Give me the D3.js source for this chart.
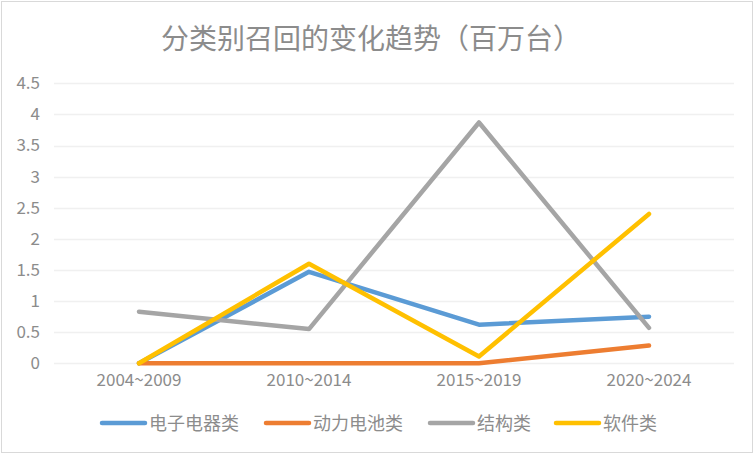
<!DOCTYPE html>
<html><head><meta charset="utf-8">
<script src="https://cdn.jsdelivr.net/npm/d3@7"></script>
<style>
html,body{margin:0;padding:0;background:#fff;}
text{font-family:"Noto Sans CJK SC","Liberation Sans",sans-serif;}
</style></head>
<body>
<svg id="c" width="754" height="454"></svg>
<script>
const categories = ["2004~2009","2010~2014","2015~2019","2020~2024"];
const seriesNames = ["电子电器类","动力电池类","结构类","软件类"];
const seriesColors = ["#5B9BD5","#ED7D31","#A5A5A5","#FFC000"];
const electronics = [0, 1.47, 0.62, 0.75];
const battery = [0, 0, 0, 0.285];
const structure = [0.83, 0.55, 3.87, 0.57];
const software = [0, 1.6, 0.11, 2.4];
const yTicks = [0,0.5,1,1.5,2,2.5,3,3.5,4,4.5];
const title = "分类别召回的变化趋势（百万台）";

const allSeries = [electronics, battery, structure, software];
const svg = d3.select("#c");
const textColor = "#8c8c8c";

svg.append("rect").attr("x",1.5).attr("y",1.5).attr("width",751).attr("height",451)
  .attr("fill","#fff").attr("stroke","#d9d9d9").attr("stroke-width",1);

svg.append("text").attr("x",371).attr("y",49).attr("text-anchor","middle")
  .attr("font-size",28).attr("fill",textColor).text(title);

const x = d3.scaleBand().domain(categories).range([54,734]);
const y = d3.scaleLinear().domain([0,4.5]).range([363.3,83.3]);

const grid = svg.append("g");
grid.selectAll("line").data(yTicks).join("line")
  .attr("x1",54).attr("x2",734)
  .attr("y1",d=>Math.round(y(d))+0.5).attr("y2",d=>Math.round(y(d))+0.5)
  .attr("stroke","#f0f0f0").attr("stroke-width",1.3);

const yAxis = svg.append("g").attr("transform","translate(44,0)")
  .call(d3.axisLeft(y).tickValues(yTicks).tickSize(0).tickPadding(4).tickFormat(d=>String(d)));
yAxis.select(".domain").remove();
yAxis.selectAll("text").attr("font-size",17).attr("fill",textColor)
  .attr("font-family","'Liberation Sans',sans-serif");

const xAxis = svg.append("g").attr("transform","translate(0,370)")
  .call(d3.axisBottom(x).tickSize(0).tickPadding(4));
xAxis.select(".domain").remove();
xAxis.selectAll("text").attr("font-size",17).attr("fill",textColor)
  .attr("font-family","'Liberation Sans',sans-serif");

const line = d3.line().x((d,i)=>x(categories[i])+x.bandwidth()/2).y(d=>y(d));
svg.append("g").selectAll("path").data(allSeries).join("path")
  .attr("d",d=>line(d)).attr("fill","none")
  .attr("stroke",(d,i)=>seriesColors[i]).attr("stroke-width",4.5)
  .attr("stroke-linejoin","round").attr("stroke-linecap","round");

const legendX = [102,266,430,556];
const lg = svg.append("g");
seriesNames.forEach((n,i)=>{
  lg.append("line").attr("x1",legendX[i]).attr("x2",legendX[i]+43)
    .attr("y1",423).attr("y2",423).attr("stroke",seriesColors[i])
    .attr("stroke-width",4.5).attr("stroke-linecap","round");
  lg.append("text").attr("x",legendX[i]+47).attr("y",429.5)
    .attr("font-size",18).attr("fill",textColor).text(n);
});
</script>
</body></html>
